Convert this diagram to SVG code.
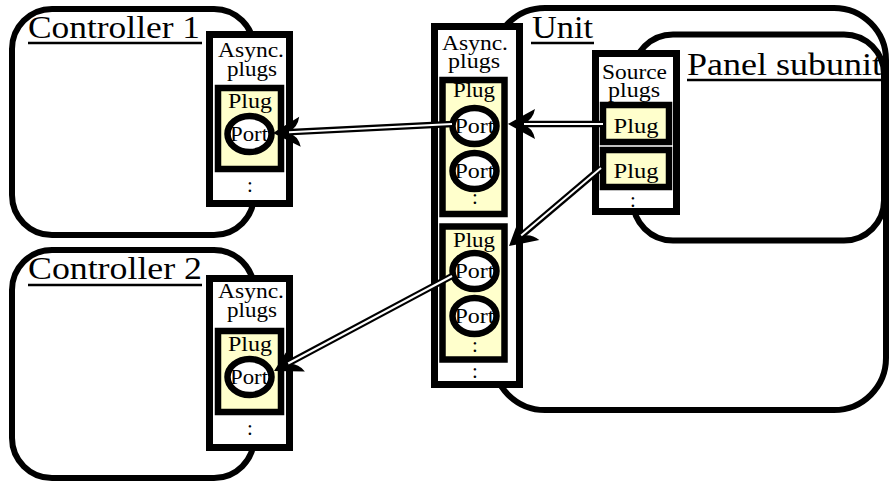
<svg xmlns="http://www.w3.org/2000/svg" width="890" height="483" viewBox="0 0 890 483">
  <style>
    .frame { fill: #fff; stroke: #000; stroke-width: 6; }
    .box { fill: #fff; stroke: #000; stroke-width: 7; }
    .plug { fill: #ffffcc; stroke: #000; stroke-width: 6.5; }
    .port { fill: #fff; stroke: #000; stroke-width: 6.5; }
    .ul { stroke: #000; stroke-width: 2.5; }
    .title { font-family: 'Liberation Serif', serif; font-size: 32px; fill: #000; }
    .lbl { font-family: 'Liberation Serif', serif; font-size: 21px; fill: #000; text-anchor: middle; }
    .wire { fill: none; stroke: #000; stroke-width: 6.5; marker-end: url(#head); }
    .core { fill: none; stroke: #fff; stroke-width: 2; }
  </style>
  <defs>
    <!-- barbed head; origin sits at the notch where the double line ends -->
    <marker id="head" markerUnits="userSpaceOnUse" orient="auto" viewBox="-16 -17 32 34" markerWidth="32" markerHeight="34" refX="0" refY="0" overflow="visible">
      <path d="M14,0 Q0,-8 -13,-15 Q-11,-4 -1,0 Q-11,4 -13,15 Q0,8 14,0 Z" fill="#000"/>
    </marker>
  </defs>

  <!-- Controller 1 -->
  <g id="controller1">
    <rect class="frame" x="12" y="9" width="242" height="226" rx="40" ry="40"/>
    <text class="title" x="28" y="38" textLength="172" lengthAdjust="spacingAndGlyphs">Controller 1</text>
    <line class="ul" x1="28" y1="43" x2="202" y2="43"/>
    <g id="controller1-async">
      <rect class="box" x="209.5" y="34.5" width="80" height="169"/>
      <text class="lbl" x="251" y="57" textLength="66" lengthAdjust="spacingAndGlyphs">Async.</text>
      <text class="lbl" x="252" y="76" textLength="50" lengthAdjust="spacingAndGlyphs">plugs</text>
      <g id="controller1-plug">
        <rect class="plug" x="218" y="88" width="63" height="81"/>
        <text class="lbl" x="250" y="108" textLength="44" lengthAdjust="spacingAndGlyphs">Plug</text>
        <ellipse class="port" cx="249.5" cy="134" rx="22" ry="18"/>
        <text class="lbl" x="249" y="141" textLength="38" lengthAdjust="spacingAndGlyphs">Port</text>
      </g>
      <text class="lbl" x="250" y="191.5">:</text>
    </g>
  </g>

  <!-- Controller 2 -->
  <g id="controller2">
    <rect class="frame" x="12" y="250" width="242" height="228" rx="40" ry="40"/>
    <text class="title" x="28" y="279" textLength="174" lengthAdjust="spacingAndGlyphs">Controller 2</text>
    <line class="ul" x1="28" y1="285" x2="202" y2="285"/>
    <g id="controller2-async">
      <rect class="box" x="209.5" y="278.5" width="80" height="169"/>
      <text class="lbl" x="251" y="298" textLength="66" lengthAdjust="spacingAndGlyphs">Async.</text>
      <text class="lbl" x="252" y="317" textLength="50" lengthAdjust="spacingAndGlyphs">plugs</text>
      <g id="controller2-plug">
        <rect class="plug" x="218" y="331" width="63" height="81"/>
        <text class="lbl" x="250" y="351" textLength="44" lengthAdjust="spacingAndGlyphs">Plug</text>
        <ellipse class="port" cx="249.5" cy="377" rx="22" ry="18"/>
        <text class="lbl" x="249" y="384" textLength="38" lengthAdjust="spacingAndGlyphs">Port</text>
      </g>
      <text class="lbl" x="250" y="434.5">:</text>
    </g>
  </g>

  <!-- Unit with its panel subunit -->
  <g id="unit">
    <rect class="frame" x="493" y="8" width="393" height="402" rx="52" ry="52"/>
    <text class="title" x="532" y="38" textLength="61" lengthAdjust="spacingAndGlyphs">Unit</text>
    <line class="ul" x1="531" y1="43" x2="594" y2="43"/>

    <g id="panel-subunit">
      <rect class="frame" x="633" y="34.5" width="251" height="206" rx="40" ry="40"/>
      <text class="title" x="687" y="75" textLength="195" lengthAdjust="spacingAndGlyphs">Panel subunit</text>
      <line class="ul" x1="687" y1="80" x2="884" y2="80"/>
      <g id="source-plugs">
        <rect class="box" x="595.5" y="53.5" width="81" height="158"/>
        <text class="lbl" x="634.5" y="79" textLength="65" lengthAdjust="spacingAndGlyphs">Source</text>
        <text class="lbl" x="634" y="97" textLength="52" lengthAdjust="spacingAndGlyphs">plugs</text>
        <g id="source-plug1">
          <rect class="plug" x="603" y="105" width="66" height="37"/>
          <text class="lbl" x="636" y="133" textLength="45" lengthAdjust="spacingAndGlyphs">Plug</text>
        </g>
        <g id="source-plug2">
          <rect class="plug" x="603" y="150" width="66" height="37"/>
          <text class="lbl" x="636" y="178" textLength="45" lengthAdjust="spacingAndGlyphs">Plug</text>
        </g>
        <text class="lbl" x="633" y="206.5">:</text>
      </g>
    </g>

    <g id="unit-async">
      <rect class="box" x="434.5" y="26.5" width="85" height="358"/>
      <text class="lbl" x="475" y="50" textLength="66" lengthAdjust="spacingAndGlyphs">Async.</text>
      <text class="lbl" x="474" y="68" textLength="52" lengthAdjust="spacingAndGlyphs">plugs</text>
      <g id="unit-plug1">
        <rect class="plug" x="442.5" y="80" width="62" height="134"/>
        <text class="lbl" x="474" y="97" textLength="42" lengthAdjust="spacingAndGlyphs">Plug</text>
        <ellipse class="port" cx="474.5" cy="126" rx="22" ry="18"/>
        <text class="lbl" x="474.5" y="133" textLength="40" lengthAdjust="spacingAndGlyphs">Port</text>
        <ellipse class="port" cx="474.5" cy="171" rx="22" ry="18"/>
        <text class="lbl" x="474.5" y="178" textLength="40" lengthAdjust="spacingAndGlyphs">Port</text>
        <text class="lbl" x="475" y="203.5">:</text>
      </g>
      <g id="unit-plug2">
        <rect class="plug" x="442.5" y="226.5" width="62" height="133"/>
        <text class="lbl" x="474" y="247" textLength="42" lengthAdjust="spacingAndGlyphs">Plug</text>
        <ellipse class="port" cx="474.5" cy="271" rx="22" ry="18"/>
        <text class="lbl" x="474.5" y="278" textLength="40" lengthAdjust="spacingAndGlyphs">Port</text>
        <ellipse class="port" cx="474.5" cy="316" rx="22" ry="18"/>
        <text class="lbl" x="474.5" y="323" textLength="40" lengthAdjust="spacingAndGlyphs">Port</text>
        <text class="lbl" x="475" y="351.5">:</text>
      </g>
      <text class="lbl" x="475" y="377.5">:</text>
    </g>
  </g>

  <!-- Connections: black stroke with head, white core on top -->
  <g id="connectors">
    <path class="wire" d="M452,124 L287,132.3"/>
    <path class="wire" d="M603,124 L522,124"/>
    <path class="wire" d="M601,168 L519.7,236.9"/>
    <path class="wire" d="M452,276 L286.4,364.4"/>
    <path class="core" d="M452,124 L289,132.2"/>
    <path class="core" d="M603,124 L524,124"/>
    <path class="core" d="M601,168 L521.2,235.6"/>
    <path class="core" d="M452,276 L288.2,363.5"/>
  </g>
</svg>
